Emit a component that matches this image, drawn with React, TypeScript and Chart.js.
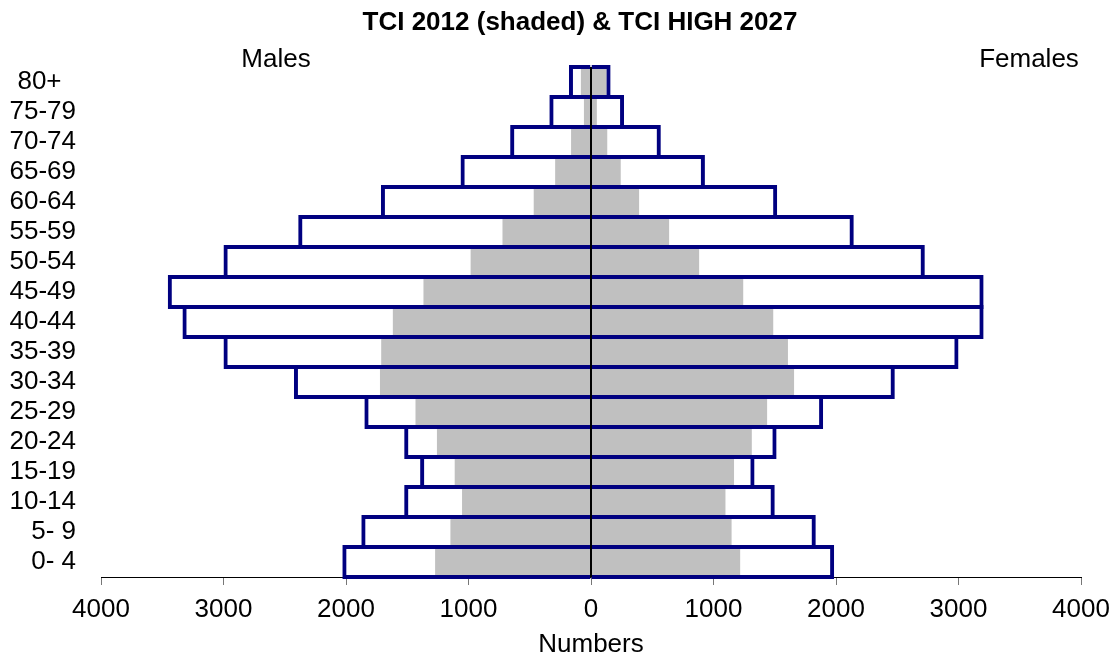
import React, { useEffect, useRef } from 'react';
import { Chart, registerables } from 'chart.js';

Chart.register(...registerables);

// ---- data (youngest first) ----
const ageGroups = ['0- 4', '5- 9', '10-14', '15-19', '20-24', '25-29', '30-34', '35-39', '40-44', '45-49', '50-54', '55-59', '60-64', '65-69', '70-74', '75-79', '80+'];
const males2012 = [1270, 1145, 1050, 1110, 1255, 1430, 1720, 1710, 1615, 1365, 980, 720, 465, 290, 160, 55, 80];
const females2012 = [1215, 1145, 1095, 1165, 1310, 1435, 1655, 1605, 1485, 1240, 880, 635, 390, 240, 130, 45, 125];
const males2027 = [2030, 1875, 1525, 1395, 1525, 1850, 2425, 3000, 3335, 3455, 3000, 2390, 1715, 1065, 660, 340, 180];
const females2027 = [1985, 1835, 1500, 1335, 1515, 1895, 2480, 3000, 3205, 3205, 2725, 2145, 1520, 930, 570, 270, 160];

const xMin = -4000;
const xMax = 4000;
const xStep = 1000;

const chartTitle = 'TCI 2012 (shaded) & TCI HIGH 2027';
const leftLabel = 'Males';
const rightLabel = 'Females';
const xAxisTitle = 'Numbers';

const FONT = '"Liberation Sans", Arial, Helvetica, sans-serif';
const NAVY = '#000080';
const SILVER = '#C0C0C0';

const textPlugin = {
  id: 'pyramidText',
  afterDatasetsDraw(chart: any) {
    // zero (category) axis line drawn over the bars
    const ctx = chart.ctx;
    const x0 = chart.scales.x.getPixelForValue(0);
    const { top, bottom } = chart.chartArea;
    ctx.save();
    ctx.strokeStyle = '#000';
    ctx.lineWidth = 2;
    ctx.beginPath();
    ctx.moveTo(Math.round(x0), top);
    ctx.lineTo(Math.round(x0), bottom);
    ctx.stroke();
    ctx.restore();
  },
  afterDraw(chart: any) {
    const ctx = chart.ctx;
    ctx.save();
    ctx.fillStyle = '#000';
    ctx.textBaseline = 'alphabetic';
    ctx.textAlign = 'center';
    ctx.font = `bold 26px ${FONT}`;
    ctx.fillText(chartTitle, 580, 29.5);
    ctx.font = `26px ${FONT}`;
    ctx.fillText(leftLabel, 276, 66.5);
    ctx.fillText(rightLabel, 1029, 66.5);
    ctx.restore();
  },
};

export default function App() {
  const canvasRef = useRef<HTMLCanvasElement | null>(null);

  useEffect(() => {
    if (!canvasRef.current) return;
    Chart.defaults.font.family = FONT;
    const neg = (a: number[]) => a.map((v) => -v);
    const outline = {
      backgroundColor: 'rgba(0,0,0,0)',
      borderColor: NAVY,
      borderWidth: 4,
      borderSkipped: 'start',
      barPercentage: 34 / 30,
      categoryPercentage: 1,
      grouped: false,
      clip: false,
      order: 0,
    };
    const shaded = {
      backgroundColor: SILVER,
      borderWidth: 0,
      barPercentage: 1,
      categoryPercentage: 1,
      grouped: false,
      order: 1,
    };
    const chart = new Chart(canvasRef.current, {
      type: 'bar',
      data: {
        labels: ageGroups,
        datasets: [
          { label: 'Males 2027', data: neg(males2027), ...outline },
          { label: 'Females 2027', data: females2027, ...outline },
          { label: 'Males 2012', data: neg(males2012), ...shaded },
          { label: 'Females 2012', data: females2012, ...shaded },
        ] as any,
      },
      options: {
        indexAxis: 'y',
        responsive: false,
        animation: false,
        layout: { padding: { top: 67, right: 38, bottom: 0, left: 0 } },
        plugins: {
          legend: { display: false },
          title: { display: false },
          tooltip: { enabled: false },
        },
        scales: {
          x: {
            type: 'linear',
            min: xMin,
            max: xMax,
            ticks: {
              stepSize: xStep,
              callback: (v: any) => String(Math.abs(Number(v))),
              font: { size: 26 },
              color: '#000',
              padding: 9,
              maxRotation: 0,
              autoSkip: false,
            },
            grid: {
              drawOnChartArea: false,
              drawTicks: true,
              tickLength: 8,
              tickColor: '#777',
              tickWidth: 1,
            },
            border: { display: true, color: '#000', width: 1 },
            title: {
              display: true,
              text: xAxisTitle,
              font: { size: 26 },
              color: '#000',
              padding: { top: 0, bottom: 0 },
            },
            afterFit: (s: any) => {
              s.height = 83;
            },
          },
          y: {
            type: 'category',
            reverse: true,
            grid: { display: false, drawTicks: false },
            border: { display: false },
            ticks: {
              font: { size: 26 },
              color: '#000',
              padding: 25,
              autoSkip: false,
              callback: (_v: any, i: number) => (ageGroups[i] === '80+' ? ageGroups[i] + '  ' : ageGroups[i]),
            },
            afterFit: (s: any) => {
              s.width = 101;
            },
          },
        },
      } as any,
      plugins: [textPlugin],
    });
    return () => chart.destroy();
  }, []);

  return (
    <div style={{ width: 1119, height: 660, position: 'relative', background: '#fff' }}>
      <style>{'html,body{margin:0;padding:0;background:#fff;}'}</style>
      <canvas ref={canvasRef} width={1119} height={660} style={{ display: 'block', width: 1119, height: 660 }} />
    </div>
  );
}
